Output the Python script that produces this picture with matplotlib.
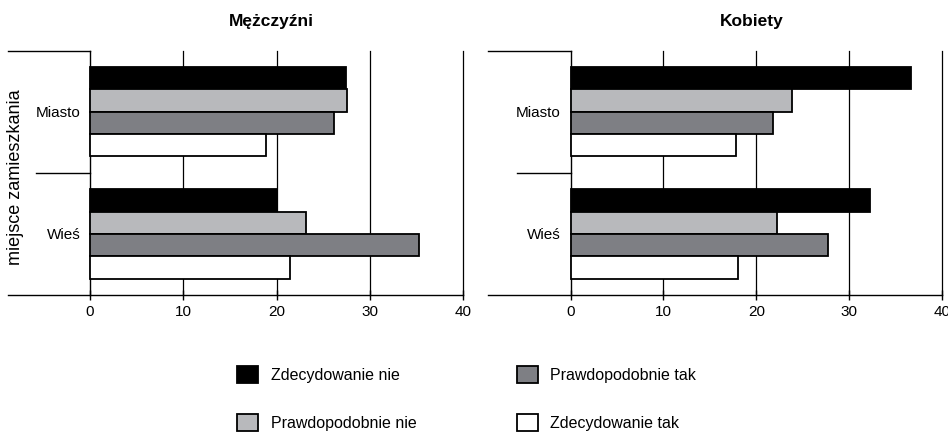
import matplotlib
matplotlib.use("Agg")
import matplotlib.pyplot as plt
import numpy as np
from matplotlib.patches import Patch

plt.rcParams['font.family'] = ['Liberation Sans', 'DejaVu Sans']

categories = ['Miasto', 'Wieś']
series_names = ['Zdecydowanie nie', 'Prawdopodobnie nie', 'Prawdopodobnie tak', 'Zdecydowanie tak']
colors = ['#000000', '#b8b9bc', '#7e7f84', '#ffffff']

# Mężczyźni
men_zdec_nie = [27.4, 20.0]
men_prawd_nie = [27.6, 23.2]
men_prawd_tak = [26.2, 35.3]
men_zdec_tak = [18.9, 21.4]

# Kobiety
women_zdec_nie = [36.7, 32.2]
women_prawd_nie = [23.8, 22.2]
women_prawd_tak = [21.8, 27.7]
women_zdec_tak = [17.8, 18.0]

xticks = [0, 10, 20, 30, 40]

fig = plt.figure(figsize=(9.48, 4.43), dpi=100)
W, H = 948, 443


def panel(left_px, right_px, xmin, title, values):
    ax = fig.add_axes([left_px / W, 1 - 295 / H, (right_px - left_px) / W, (295 - 50.7) / H])
    y = np.arange(len(categories))
    h = 0.183
    offsets = [-1.5 * h, -0.5 * h, 0.5 * h, 1.5 * h]
    for vals, off, c in zip(values, offsets, colors):
        ax.barh(y + off, vals, height=h, color=c, edgecolor='black', linewidth=1.3, zorder=3)
    ax.set_xlim(xmin, 40)
    ax.set_ylim(1.5, -0.5)
    for x in xticks[1:]:
        ax.axvline(x, color='black', lw=0.9, zorder=1, clip_on=False)
    # category separators on the left
    ax.plot([xmin, 0], [-0.5, -0.5], color='black', lw=1, clip_on=False)
    ax.plot([-5.8, 0], [0.5, 0.5], color='black', lw=1, clip_on=False)
    for s in ['top', 'right']:
        ax.spines[s].set_visible(False)
    ax.spines['left'].set_position(('data', 0))
    ax.spines['left'].set_linewidth(1)
    ax.spines['bottom'].set_linewidth(1)
    ax.set_xticks(xticks)
    ax.tick_params(axis='x', direction='inout', length=7, width=1, labelsize=11, pad=4)
    ax.set_yticks(y)
    ax.set_yticklabels(categories, fontsize=11)
    ax.tick_params(axis='y', length=0, pad=7)
    # title centred over the plotting area (0..40), not the whole axes
    tx = (19.5 - xmin) / (40 - xmin)
    ax.set_title(title, fontsize=12.5, fontweight='bold', pad=18, x=tx)
    return ax


panel(8, 463, -8.8, 'Mężczyźni', [men_zdec_nie, men_prawd_nie, men_prawd_tak, men_zdec_tak])
panel(488, 942, -8.9, 'Kobiety', [women_zdec_nie, women_prawd_nie, women_prawd_tak, women_zdec_tak])

fig.text(16 / W, 1 - 177 / H, 'miejsce zamieszkania', rotation=90, fontsize=13,
         ha='center', va='center')

handles = [Patch(facecolor=c, edgecolor='black', linewidth=1.3) for c in colors]
fig.legend(handles, series_names, ncol=2, loc='upper left',
           bbox_to_anchor=(237 / W, 1 - 366 / H), frameon=False,
           fontsize=11.5, handlelength=1.3, handleheight=1.3, handletextpad=0.8,
           labelspacing=1.9, columnspacing=6.3, borderpad=0, borderaxespad=0)

fig.savefig('out.png', dpi=100)
